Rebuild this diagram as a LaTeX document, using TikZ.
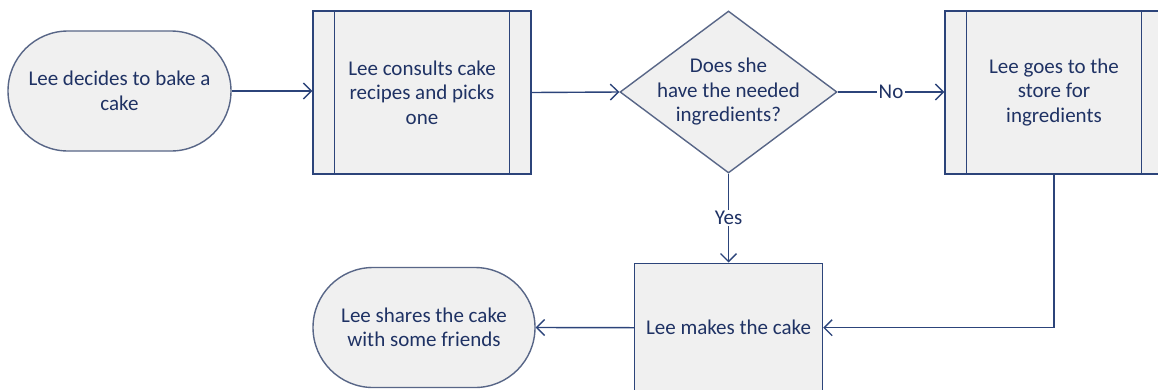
\documentclass[tikz,border=0pt]{standalone}
\usepackage{fontspec}
\setmainfont{Carlito}
\usetikzlibrary{arrows.meta,shapes.geometric}
\definecolor{linecol}{RGB}{44,68,122}
\definecolor{txtcol}{RGB}{31,50,100}
\definecolor{boxfill}{RGB}{240,240,240}
\definecolor{diacol}{RGB}{88,102,135}
\tikzset{
  txtfont/.style={font=\fontsize{21}{24.5}\selectfont},
  base/.style={draw=linecol, line width=1.4pt, fill=boxfill, text=txtcol, align=center,
    txtfont, inner sep=0pt},
  terminal/.style={base, draw=diacol, rectangle, rounded corners=60pt, minimum height=120pt},
  procbox/.style={base, rectangle, minimum width=218pt, minimum height=163pt},
  plainbox/.style={base, rectangle, minimum width=188pt, minimum height=129pt},
  decision/.style={base, draw=diacol, diamond, minimum width=217pt, minimum height=162pt},
  conn/.style={draw=linecol, line width=1.4pt, -{Straight Barb[length=8pt,width=16pt,line width=1.4pt]}},
  lbl/.style={fill=white, text=txtcol, txtfont, inner sep=1.5pt},
}
\begin{document}
\begin{tikzpicture}[x=1pt,y=-1pt]
\clip (0,0) rectangle (1158,389);
\fill[white] (0,0) rectangle (1158,389);
\node[terminal, minimum width=223pt] (t1) at (119.5,91) {Lee decides to bake a\\cake};
\node[procbox] (p1) at (422,92.5) {Lee consults cake\\recipes and picks\\one};
\draw[linecol, line width=1.4pt] ([xshift=22pt]p1.north west) -- ([xshift=22pt]p1.south west)
  ([xshift=-22pt]p1.north east) -- ([xshift=-22pt]p1.south east);
\node[decision, label={[text=txtcol, align=center, txtfont]center:Does she\\have the needed\\ingredients?}] (d) at (728.5,92) {};
\node[procbox] (p2) at (1054,92.5) {Lee goes to the\\store for\\ingredients};
\draw[linecol, line width=1.4pt] ([xshift=22pt]p2.north west) -- ([xshift=22pt]p2.south west)
  ([xshift=-22pt]p2.north east) -- ([xshift=-22pt]p2.south east);
\node[plainbox] (b4) at (728.5,327.7) {Lee makes the cake};
\node[terminal, minimum width=222pt] (t2) at (424,327.5) {Lee shares the cake\\with some friends};
\draw[conn] (t1.east) -- (t1.east -| p1.west);
\draw[conn] (p1.east) -- (d.west);
\draw[conn] (d.east) -- node[lbl] (no) {No} (d.east -| p2.west);
\draw[conn] (d.south) -- node[lbl] (yes) {Yes} (b4.north);
\draw[conn] (p2.south) -- (p2.south |- b4.east) -- (b4.east);
\draw[conn] (b4.west) -- (t2.east);
\end{tikzpicture}
\end{document}
